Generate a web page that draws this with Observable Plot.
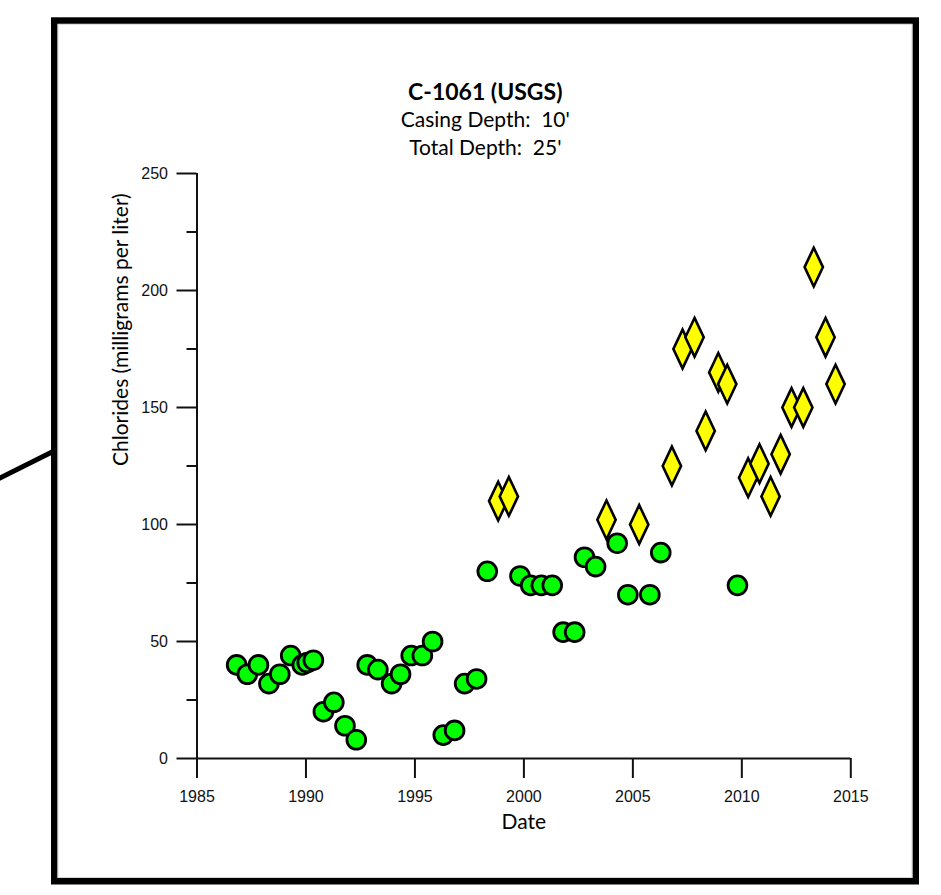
<!DOCTYPE html>
<html><head><meta charset="utf-8">
<script src="https://cdn.jsdelivr.net/npm/d3@7"></script>
<script src="https://cdn.jsdelivr.net/npm/@observablehq/plot@0.6"></script>
<style>html,body{margin:0;padding:0;background:#fff;} svg{display:block}</style>
</head><body><div id="chart"></div>
<script>
// Green circles (USGS samples)
const circleDates = [1986.82, 1987.31, 1987.82, 1988.30, 1988.80, 1989.30, 1989.83, 1990.06, 1990.34, 1990.80,
  1991.28, 1991.79, 1992.31, 1992.81, 1993.30, 1993.93, 1994.34, 1994.83, 1995.34, 1995.81,
  1996.30, 1996.82, 1997.28, 1997.83, 1998.32, 1999.82, 2000.31, 2000.80, 2001.30, 2001.80,
  2002.33, 2002.78, 2003.29, 2004.28, 2004.77, 2005.78, 2006.28, 2009.80];
const circleValues = [40, 36, 40, 32, 36, 44, 40, 41, 42, 20,
  24, 14, 8, 40, 38, 32, 36, 44, 44, 50,
  10, 12, 32, 34, 80, 78, 74, 74, 74, 54,
  54, 86, 82, 92, 70, 70, 88, 74];
// Yellow diamonds
const diamondDates = [1998.82, 1999.31, 2003.79, 2005.29, 2006.79, 2007.28, 2007.83, 2008.34, 2008.92, 2009.33,
  2010.29, 2010.81, 2011.32, 2011.78, 2012.28, 2012.82, 2013.30, 2013.84, 2014.30];
const diamondValues = [110, 112, 102, 100, 125, 175, 180, 140, 165, 160,
  120, 126, 112, 130, 150, 150, 210, 180, 160];

const xTicks = [1985, 1990, 1995, 2000, 2005, 2010, 2015];
const yTicks = [0, 50, 100, 150, 200, 250];
const yMinorTicks = [25, 75, 125, 175, 225];

const titleText = "C-1061 (USGS)";
const subtitle1 = "Casing Depth:  10'";
const subtitle2 = "Total Depth:  25'";
const xLabel = "Date";
const yLabel = "Chlorides (milligrams per liter)";

const circles = circleDates.map((d, i) => ({date: d, value: circleValues[i]}));
const diamonds = diamondDates.map((d, i) => ({date: d, value: diamondValues[i]}));

const tallDiamond = {
  draw(context, size) {
    const r = Math.sqrt(size / Math.PI);
    const w = r * 0.9, h = r * 1.9;
    context.moveTo(0, -h);
    context.lineTo(w, 0);
    context.lineTo(0, h);
    context.lineTo(-w, 0);
    context.closePath();
  }
};

const labelFont = "Lato, 'Open Sans', sans-serif";
const tickFont = "'Liberation Sans', Arial, sans-serif";

const chart = Plot.plot({
  width: 941, height: 895,
  marginLeft: 196.5, marginRight: 90.7, marginTop: 173, marginBottom: 137,
  style: {background: "transparent", overflow: "visible", fontSize: "16px", fontFamily: tickFont},
  x: {domain: [1985, 2015], label: null},
  y: {domain: [0, 250], label: null},
  marks: [
    Plot.axisX({ticks: xTicks, tickSize: 20, tickPadding: 12, tickFormat: "d",
      strokeWidth: 2, stroke: "#111", fill: "#111", label: null}),
    Plot.axisY({ticks: yTicks, tickSize: 20, tickPadding: 9, tickFormat: "d",
      strokeWidth: 2, stroke: "#111", fill: "#111", label: null}),
    Plot.axisY({ticks: yMinorTicks, tickSize: 10, tickFormat: () => "", strokeWidth: 2, stroke: "#111", label: null}),
    Plot.ruleX([1985], {stroke: "#111", strokeWidth: 2}),
    Plot.ruleY([0], {stroke: "#111", strokeWidth: 2}),
    Plot.dot(diamonds, {x: "date", y: "value", symbol: tallDiamond, r: 10.2, fill: "#ffff00",
      stroke: "#000", strokeWidth: 2.6}),
    Plot.dot(circles, {x: "date", y: "value", r: 9.4, fill: "#00ff00", stroke: "#000", strokeWidth: 2.8}),
    Plot.text([titleText], {frameAnchor: "top", dx: -38.6, dy: -90, lineAnchor: "top",
      fontFamily: labelFont, fontWeight: "bold", fontSize: 23, fill: "#000"}),
    Plot.text([subtitle1], {frameAnchor: "top", dx: -38.6, dy: -61, lineAnchor: "top",
      fontFamily: labelFont, fontSize: 21, fill: "#000"}),
    Plot.text([subtitle2], {frameAnchor: "top", dx: -38.6, dy: -33, lineAnchor: "top",
      fontFamily: labelFont, fontSize: 21, fill: "#000"}),
    Plot.text([xLabel], {frameAnchor: "bottom", dy: 56, lineAnchor: "top",
      fontFamily: labelFont, fontSize: 21, fill: "#000"}),
    Plot.text([yLabel], {frameAnchor: "left", dx: -76, rotate: -90, lineAnchor: "middle",
      fontFamily: labelFont, fontSize: 21, fill: "#000"})
  ]
});

// decorative page frame and leader line behind the chart
const svg = d3.select(chart);
const deco = svg.insert("g", ":first-child");
deco.append("line").attr("x1", -20).attr("y1", 488).attr("x2", 55).attr("y2", 450.5)
  .attr("stroke", "#000").attr("stroke-width", 5);
deco.append("rect").attr("x", 54.3).attr("y", 20.6).attr("width", 861.4).attr("height", 860.6)
  .attr("fill", "#fff").attr("stroke", "#000").attr("stroke-width", 6.6);
deco.append("rect").attr("x", 58).attr("y", 24.3).attr("width", 854).attr("height", 853.2)
  .attr("fill", "none").attr("stroke", "#d6d6d6").attr("stroke-width", 1);

document.getElementById("chart").appendChild(chart);
</script>
</body></html>
